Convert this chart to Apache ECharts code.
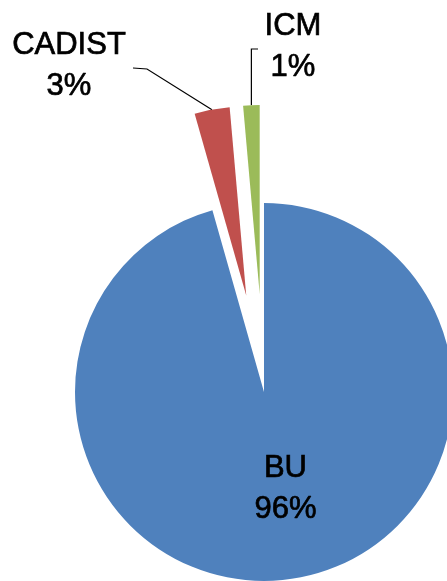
<!DOCTYPE html>
<html>
<head>
<meta charset="utf-8">
<script src="https://cdn.jsdelivr.net/npm/echarts@6/dist/echarts.min.js"></script>
<style>
  html, body { margin: 0; padding: 0; background: #fff; }
  #chart { width: 447px; height: 581px; }
</style>
</head>
<body>
<div id="chart"></div>
<script>
// categories and shares (%)
var categories = ["BU", "CADIST", "ICM"];
var shares = [95.6, 3.0, 1.4];
var colors = ["#4F81BD", "#C0504D", "#9BBB59"];

var center = [264, 392];
var radius = 189;
var explode = 98;
var font = "31px 'Liberation Sans', Arial, sans-serif";

// text centre of the two outside labels
var labelSpots = {
  1: { x: 69, y: 66 },
  2: { x: 293, y: 47 }
};

var chart = echarts.init(document.getElementById("chart"));

var total = shares.reduce(function (a, b) { return a + b; }, 0);

var data = categories.map(function (name, i) {
  var item = {
    name: name,
    value: shares[i],
    itemStyle: { color: colors[i] }
  };
  if (i === 0) {
    item.label = { show: true };
  } else {
    item.selected = true;
  }
  return item;
});

// leader lines start at the middle of the exploded slice's outer arc
var graphics = [];
var cum = 0;
shares.forEach(function (v, i) {
  var mid = (cum + v / 2) / total * 2 * Math.PI;
  cum += v;
  var spot = labelSpots[i];
  if (!spot) return;
  var r = radius + explode;
  var start = [center[0] + r * Math.sin(mid), center[1] - r * Math.cos(mid)];
  var pts;
  if (i === 1) {
    pts = [start, [spot.x + 78, spot.y + 3], [spot.x + 64, spot.y + 2]];
  } else {
    pts = [start, [start[0], spot.y + 2], [spot.x - 35, spot.y + 2]];
  }
  graphics.push({
    type: "polyline",
    silent: true,
    shape: { points: pts },
    style: { stroke: "#000", lineWidth: 1.2, fill: null }
  });
  graphics.push({
    type: "text",
    silent: true,
    x: spot.x,
    y: spot.y,
    style: {
      text: categories[i] + "\n" + Math.round(v / total * 100) + "%",
      font: font,
      lineHeight: 41,
      fill: "#000",
      stroke: "#000",
      lineWidth: 0.7,
      align: "center",
      verticalAlign: "middle"
    }
  });
});

chart.setOption({
  animation: false,
  graphic: graphics,
  series: [
    {
      type: "pie",
      center: center,
      radius: radius,
      startAngle: 90,
      clockwise: true,
      selectedMode: "multiple",
      selectedOffset: explode,
      silent: true,
      emphasis: { disabled: true },
      data: data,
      label: {
        show: false,
        position: "inside",
        color: "#000",
        textBorderColor: "#000",
        textBorderWidth: 0.7,
        fontFamily: "Liberation Sans, Arial, sans-serif",
        fontSize: 31,
        lineHeight: 41,
        align: "center",
        offset: [8, 0],
        formatter: function (p) {
          return p.name + "\n" + Math.round(p.percent) + "%";
        }
      },
      labelLine: { show: false }
    }
  ]
});
</script>
</body>
</html>
